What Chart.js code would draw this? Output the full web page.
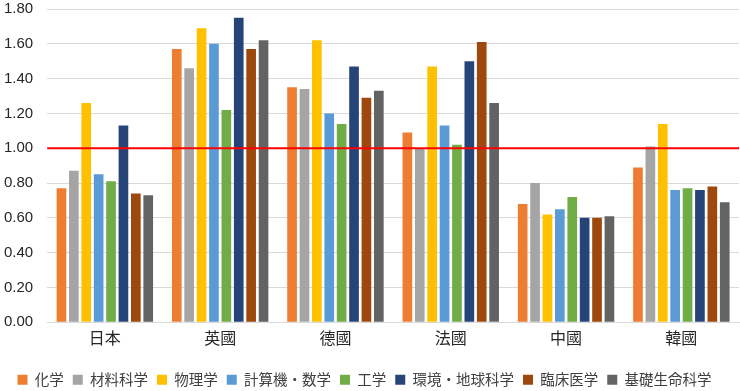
<!DOCTYPE html>
<html>
<head>
<meta charset="utf-8">
<script src="https://cdn.jsdelivr.net/npm/chart.js@4/dist/chart.umd.min.js"></script>
<style>
    html, body { margin: 0; padding: 0; background: #ffffff; }
    #wrap { width: 740px; height: 391px; }
</style>
</head>
<body>
<div id="wrap"><canvas id="chart" width="740" height="391"></canvas></div>
<script>
// countries on the x axis
const countries = ["日本", "英國", "德國", "法國", "中國", "韓國"];

// one array per field, values in country order
const chemistry     = [0.77, 1.57, 1.35, 1.09, 0.68, 0.89];
const materials     = [0.87, 1.46, 1.34, 1.00, 0.80, 1.01];
const physics       = [1.26, 1.69, 1.62, 1.47, 0.62, 1.14];
const computing     = [0.85, 1.60, 1.20, 1.13, 0.65, 0.76];
const engineering   = [0.81, 1.22, 1.14, 1.02, 0.72, 0.77];
const environment   = [1.13, 1.75, 1.47, 1.50, 0.60, 0.76];
const clinical      = [0.74, 1.57, 1.29, 1.61, 0.60, 0.78];
const basicLife     = [0.73, 1.62, 1.33, 1.26, 0.61, 0.69];

const fieldNames = ["化学", "材料科学", "物理学", "計算機・数学", "工学", "環境・地球科学", "臨床医学", "基礎生命科学"];
const fieldValues = [chemistry, materials, physics, computing, engineering, environment, clinical, basicLife];
const fieldColors = ["#ED7D31", "#A5A5A5", "#FFC000", "#5B9BD5", "#70AD47", "#264478", "#9E480E", "#636363"];

// red reference line (world average)
const baseline = 1.00;

const yMax = 1.8;
const yStep = 0.2;

//draws the red line over the bars
const baselinePlugin = {
    id: "baseline",
    afterDatasetsDraw(chart) {
        const y = chart.scales.y.getPixelForValue(baseline);
        const area = chart.chartArea;
        const ctx = chart.ctx;
        ctx.save();
        ctx.strokeStyle = "#FF0000";
        ctx.lineWidth = 2;
        ctx.beginPath();
        ctx.moveTo(area.left, y);
        ctx.lineTo(area.right, y);
        ctx.stroke();
        ctx.restore();
    }
};

const datasets = fieldNames.map((name, i) => ({
    label: name,
    data: fieldValues[i],
    backgroundColor: fieldColors[i],
    borderWidth: 0,
    categoryPercentage: 0.86,
    barPercentage: 0.78
}));

new Chart(document.getElementById("chart"), {
    type: "bar",
    data: { labels: countries, datasets: datasets },
    options: {
        responsive: false,
        animation: false,
        layout: { padding: { top: 0, right: 1, left: -10, bottom: -6 } },
        plugins: {
            tooltip: { enabled: false },
            legend: {
                position: "bottom",
                labels: {
                    boxWidth: 10,
                    boxHeight: 10,
                    padding: 9,
                    color: "#404040",
                    font: { family: "'Noto Sans CJK JP', sans-serif", size: 14.5 }
                }
            }
        },
        scales: {
            x: {
                grid: { display: false },
                border: { color: "#D9D9D9", width: 1 },
                ticks: {
                    color: "#262626",
                    padding: -2,
                    font: { family: "'Noto Sans CJK JP', sans-serif", size: 16 }
                },
                //leave room between the country names and the legend
                afterFit: (scale) => { scale.height += 18; }
            },
            y: {
                min: 0,
                max: yMax,
                border: { display: false },
                grid: { color: "#D9D9D9", lineWidth: 1, drawTicks: false },
                ticks: {
                    stepSize: yStep,
                    padding: 14,
                    color: "#262626",
                    font: { family: "'Liberation Sans', Arial, sans-serif", size: 15 },
                    callback: (v) => v.toFixed(2)
                },
                //tick padding should only push labels sideways, not the top of the plot
                afterFit: (scale) => { scale.paddingTop = 9; }
            }
        }
    },
    plugins: [baselinePlugin]
});
</script>
</body>
</html>
